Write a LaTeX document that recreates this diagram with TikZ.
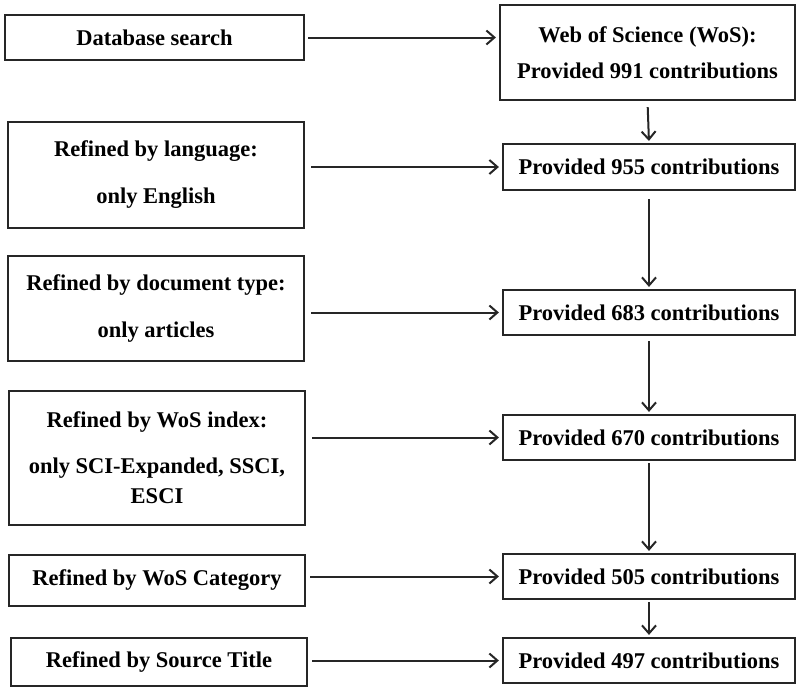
\documentclass[tikz,border=0pt]{standalone}
\usepackage{fontspec}
\setmainfont{Liberation Serif}
\usetikzlibrary{arrows.meta}
\tikzset{>={Straight Barb[length=8pt,width=14pt,line width=2pt]}}
\tikzset{stagebox/.style={draw=black!85,line width=2.2pt,inner sep=0pt,align=center,font=\fontsize{22.5}{26}\selectfont\bfseries}}
\tikzset{flowarrow/.style={draw=black!85,->,line width=2pt}}

\begin{document}
\begin{tikzpicture}[x=1pt,y=-1pt]
\useasboundingbox (0,0) rectangle (797,689);
\node[stagebox,minimum width=299pt,minimum height=45pt] (dbsearch) at (154.5,37.5) {Database search};
\node[stagebox,minimum width=296pt,minimum height=106pt] (lang) at (156,175) {Refined by language:\\[21pt] only English};
\node[stagebox,minimum width=296pt,minimum height=105pt] (doctype) at (156,308.5) {Refined by document type:\\[21pt] only articles};
\node[stagebox,minimum width=296pt,minimum height=134pt] (wosidx) at (157,458) {Refined by WoS index:\\[20pt] only SCI-Expanded, SSCI,\\[4pt] ESCI};
\node[stagebox,minimum width=296pt,minimum height=51pt] (woscat) at (157,580.5) {Refined by WoS Category};
\node[stagebox,minimum width=296pt,minimum height=48pt] (srctitle) at (159,662) {Refined by Source Title};
\node[stagebox,minimum width=295pt,minimum height=95pt] (wos991) at (647.5,52.5) {Web of Science (WoS):\\[10pt] Provided 991 contributions};
\node[stagebox,minimum width=292pt,minimum height=46pt] (n955) at (649,167) {Provided 955 contributions};
\node[stagebox,minimum width=292pt,minimum height=45pt] (n683) at (649,312.5) {Provided 683 contributions};
\node[stagebox,minimum width=292pt,minimum height=45pt] (n670) at (649,437.5) {Provided 670 contributions};
\node[stagebox,minimum width=292pt,minimum height=45pt] (n505) at (649,576.5) {Provided 505 contributions};
\node[stagebox,minimum width=292pt,minimum height=45pt] (n497) at (649,660.5) {Provided 497 contributions};
\path [flowarrow,shorten <=3pt,shorten >=3pt] (dbsearch.east) -- (dbsearch.east -| wos991.west);
\path [flowarrow,shorten <=6pt,shorten >=3pt] (lang.east |- n955.west) -- (n955.west);
\path [flowarrow,shorten <=6pt,shorten >=3pt] (doctype.east |- n683.west) -- (n683.west);
\path [flowarrow,shorten <=6pt,shorten >=3pt] (wosidx.east |- n670.west) -- (n670.west);
\path [flowarrow,shorten <=4pt,shorten >=3pt] (woscat.east |- n505.west) -- (n505.west);
\path [flowarrow,shorten <=4pt,shorten >=3pt] (srctitle.east |- n497.west) -- (n497.west);
\path [flowarrow,shorten <=6pt,shorten >=2pt] (wos991.south) -- (n955.north);
\path [flowarrow,shorten <=8pt,shorten >=2pt] (n955.south) -- (n683.north);
\path [flowarrow,shorten <=5pt,shorten >=2pt] (n683.south) -- (n670.north);
\path [flowarrow,shorten <=2pt,shorten >=2pt] (n670.south) -- (n505.north);
\path [flowarrow,shorten <=2pt,shorten >=2pt] (n505.south) -- (n497.north);
\end{tikzpicture}
\end{document}
